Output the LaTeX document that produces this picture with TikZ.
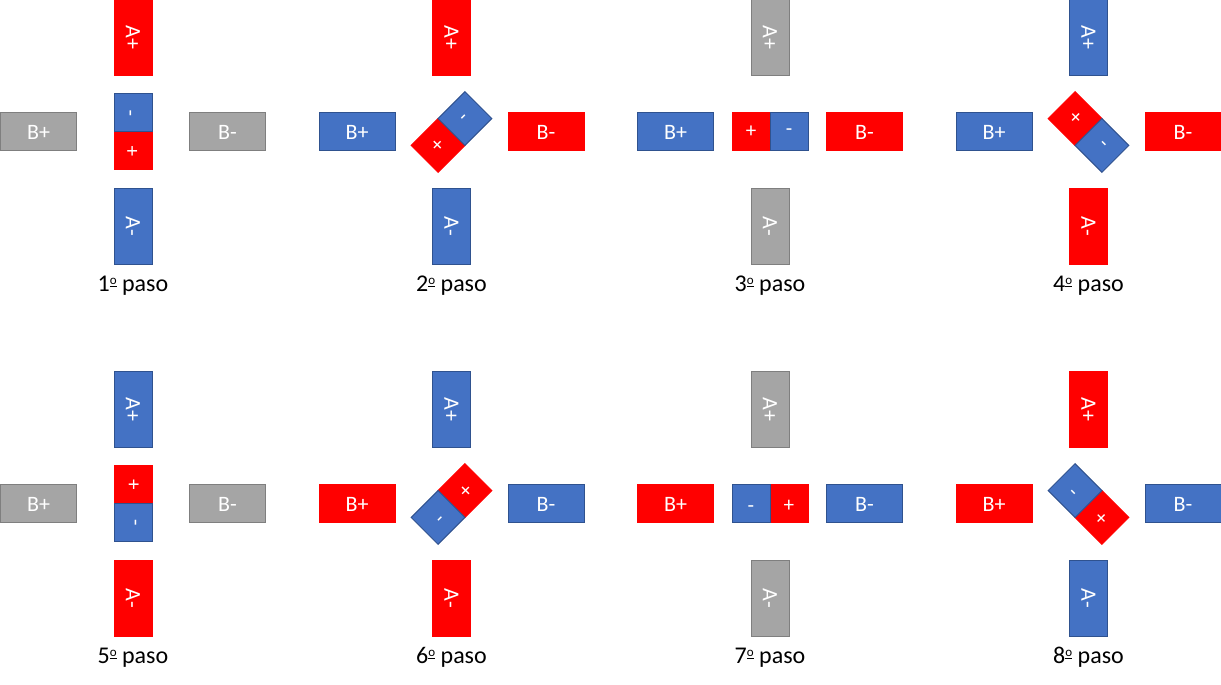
\documentclass[tikz,border=0pt]{standalone}
\usepackage{fontspec}
\setmainfont{Carlito}

\definecolor{rojo}{HTML}{FF0000}
\definecolor{bordrojo}{HTML}{FF0000}
\definecolor{azul}{HTML}{4472C4}
\definecolor{bordazul}{HTML}{2F528F}
\definecolor{gris}{HTML}{A5A5A5}
\definecolor{bordgris}{HTML}{7F7F7F}

% ordinal masculino subrayado
\newcommand{\ordm}{\raisebox{7.5pt}{\fontsize{13}{13}\selectfont\underline{o}}}

\tikzset{
  polo/.style={minimum width=76pt, minimum height=38pt, inner sep=0pt,
    line width=1pt, text=white, font=\fontsize{22}{22}\selectfont},
  iman/.style={minimum size=38pt, inner sep=0pt, line width=1pt,
    text=white, font=\fontsize{21}{21}\selectfont},
  paso/.style={font=\fontsize{24}{24}\selectfont}
}

\begin{document}
\begin{tikzpicture}[x=1pt,y=1pt]
\useasboundingbox (0,0) rectangle (1221,685);
\foreach \cx/\cy/\ang/\ap/\am/\bp/\bm/\n in {
  133/553/90/rojo/azul/gris/gris/1,
  451.5/553/45/rojo/azul/azul/rojo/2,
  770/553/0/gris/gris/azul/rojo/3,
  1088.5/553/-45/azul/rojo/azul/rojo/4,
  133/181/-90/azul/rojo/gris/gris/5,
  451.5/181/-135/azul/rojo/rojo/azul/6,
  770/181/180/gris/gris/rojo/azul/7,
  1088.5/181/135/rojo/azul/rojo/azul/8}
{
  \coordinate (c\n) at (\cx,\cy);
  % estator
  \node[polo, fill=\ap, draw=bord\ap, rotate=-90] (ap\n) at (\cx,\cy+94.5) {A+};
  \node[polo, fill=\am, draw=bord\am, rotate=-90] (am\n) at (\cx,\cy-94.5) {A-};
  \node[polo, fill=\bp, draw=bord\bp] (bp\n) at (\cx-94.5,\cy) {B+};
  \node[polo, fill=\bm, draw=bord\bm] (bm\n) at (\cx+94.5,\cy) {B-};
  % rotor
  \node[iman, fill=rojo, draw=bordrojo, rotate=\ang] (rp\n)
    at ([shift={(\ang+180:19)}]c\n) {+};
  \node[iman, fill=azul, draw=bordazul, rotate=\ang] (rm\n)
    at ([shift={(\ang:19)}]c\n) {-};
  \node[paso, anchor=base] (l\n) at (\cx,\cy-160) {\n\ordm\ paso};
}
\end{tikzpicture}
\end{document}
